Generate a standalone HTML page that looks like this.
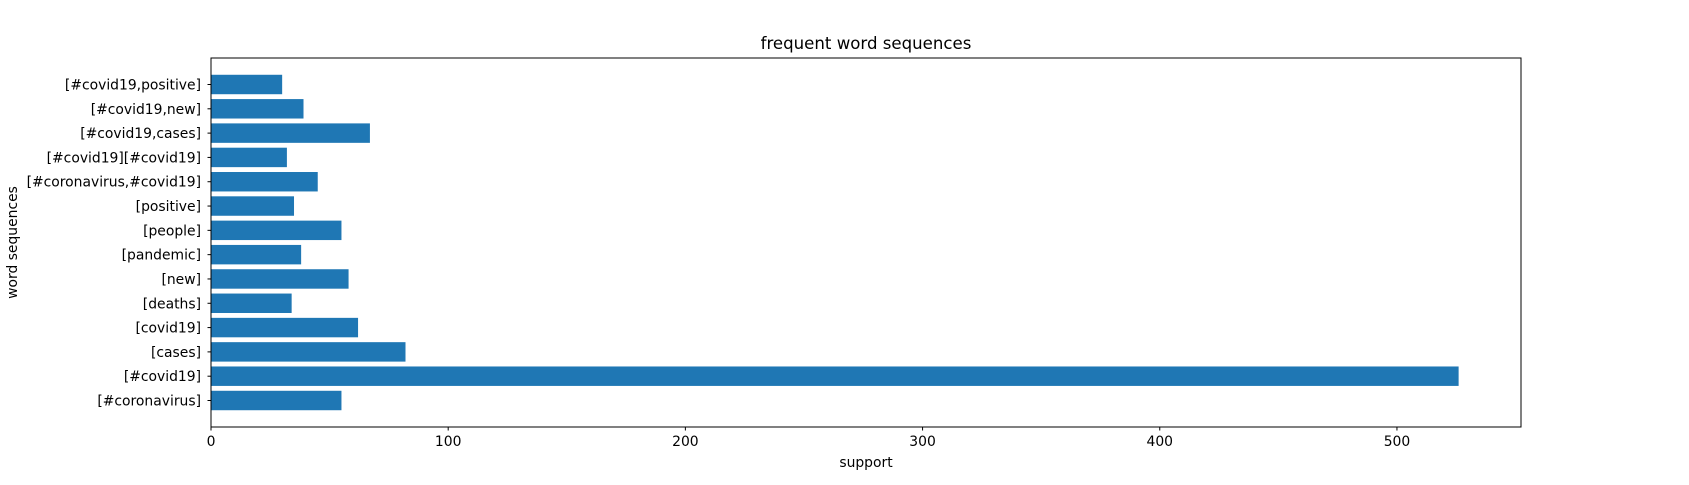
<!DOCTYPE html>
<html><head><meta charset="utf-8"><style>
body{margin:0;background:#fff}
svg text{font-family:"DejaVu Sans","Liberation Sans",sans-serif;fill:#000}
</style></head><body>
<svg id="chart" width="1689" height="480"></svg>
<script>
const categories=["[#coronavirus]","[#covid19]","[cases]","[covid19]","[deaths]","[new]","[pandemic]","[people]","[positive]","[#coronavirus,#covid19]","[#covid19][#covid19]","[#covid19,cases]","[#covid19,new]","[#covid19,positive]"];
const supportValues=[55,526,82,62,34,58,38,55,35,45,32,67,39,30];
const xTicks=[0,100,200,300,400,500];
const NS="http://www.w3.org/2000/svg";
const svg=document.getElementById('chart');
const L=211,R=1521,T=58,B=427;
const xmax=Math.max(...supportValues)*1.05;
const n=categories.length;
const ymin=-0.4-0.05*(n-0.2), ymax=n-1+0.4+0.05*(n-0.2);
const xs=v=>L+v/xmax*(R-L);
const ys=v=>B-(v-ymin)/(ymax-ymin)*(B-T);
function el(tag,attrs,parent){const e=document.createElementNS(NS,tag);for(const k in attrs)e.setAttribute(k,attrs[k]);(parent||svg).appendChild(e);return e;}
supportValues.forEach((v,i)=>{
  const r=el('rect',{x:xs(0),y:ys(i+0.4),width:xs(v)-xs(0),height:ys(i-0.4)-ys(i+0.4),fill:'#1f77b4'});
  
  
  const y=ys(i);
  const tk=el('line',{x1:L-3.5,x2:L,y1:y,y2:y,stroke:'#000','stroke-width':1});
  
  
  const t=el('text',{x:L-10,y:y+5,'text-anchor':'end','font-size':13.9});
  t.textContent=categories[i];
  
  
});
xTicks.forEach(v=>{
  const x=xs(v);
  const tk=el('line',{x1:x,x2:x,y1:B,y2:B+3.5,stroke:'#000','stroke-width':1});
  
  
  const t=el('text',{x:x,y:B+19,'text-anchor':'middle','font-size':13.9});
  t.textContent=v;
  
  
});
const fr=el('rect',{x:L,y:T,width:R-L,height:B-T,fill:'none',stroke:'#000','stroke-width':1});


const title=el('text',{x:(L+R)/2,y:49,'text-anchor':'middle','font-size':16.6});
title.textContent='frequent word sequences';


const xl=el('text',{x:(L+R)/2,y:467,'text-anchor':'middle','font-size':13.9});
xl.textContent='support';


const yl=el('text',{x:0,y:0,'text-anchor':'middle','font-size':13.9,transform:'translate(17,'+((T+B)/2)+') rotate(-90)'});
yl.textContent='word sequences';


</script>
</body></html>
